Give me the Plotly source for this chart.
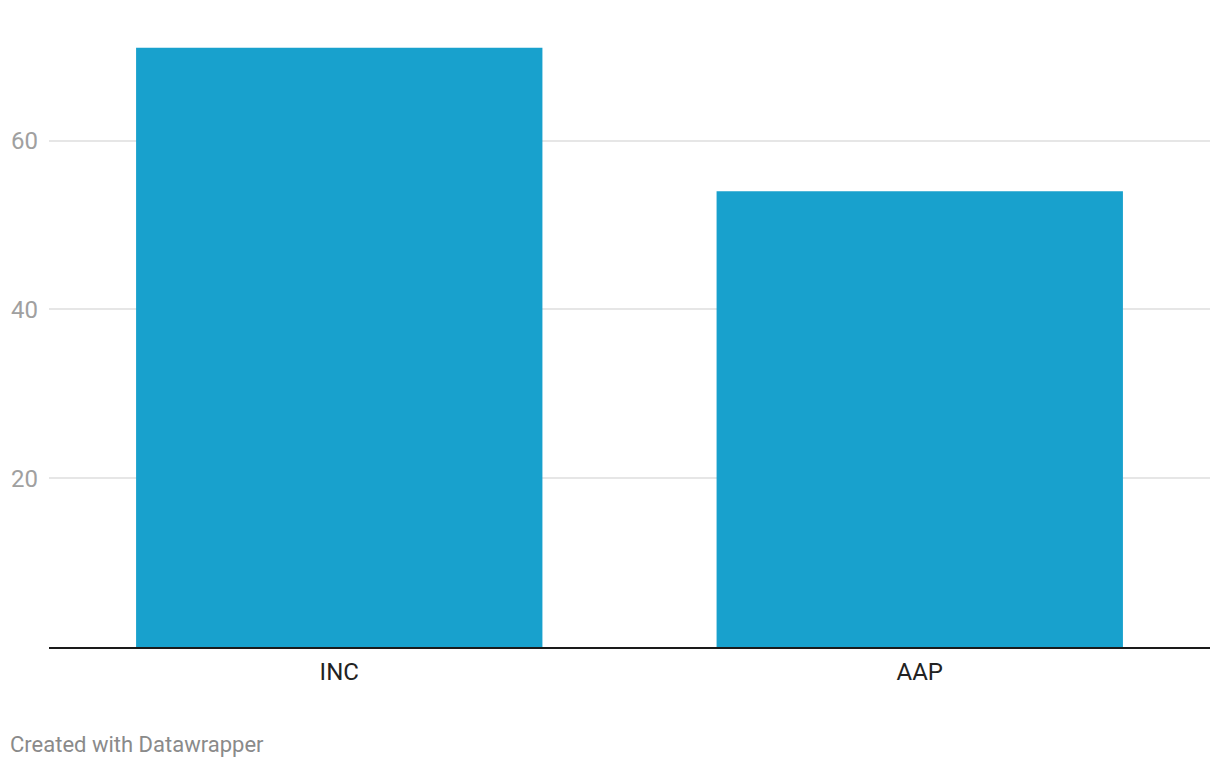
import plotly.graph_objects as go

categories = ["INC", "AAP"]
values = [71, 54]
y_ticks = [20, 40, 60]
footer_text = "Created with Datawrapper"

# page body has an 8px default margin; the figure is sized to fit inside it
OFF = 8
W, H = 1220 - 2 * OFF, 768 - 2 * OFF
L = 49 - OFF
R = W - (1210 - OFF)
T = 14 - OFF
B = H - (647.5 - OFF)
plot_w = W - L - R
plot_h = H - T - B

fig = go.Figure(
    go.Bar(
        x=categories,
        y=values,
        marker=dict(color="#18a1cd", line=dict(width=0)),
        width=0.7,
        hoverinfo="x+y",
    )
)

fig.update_layout(
    width=W,
    height=H,
    margin=dict(l=L, r=R, t=T, b=B, autoexpand=False),
    paper_bgcolor="white",
    plot_bgcolor="white",
    font=dict(family="Roboto", color="#333333"),
    showlegend=False,
    bargap=0.3,
)

fig.update_xaxes(
    range=[-0.5, 1.5],
    showgrid=False,
    showline=True,
    linecolor="#1a1a1a",
    linewidth=2,
    ticks="",
    tickfont=dict(size=24, color="#222222", family="Roboto"),
    ticklabelstandoff=2,
    zeroline=False,
    fixedrange=True,
)

fig.update_yaxes(
    range=[0, 75],
    tickvals=y_ticks,
    ticktext=[str(v) for v in y_ticks],
    showgrid=True,
    gridcolor="#e6e6e6",
    gridwidth=1.5,
    zeroline=False,
    showline=False,
    ticks="",
    tickfont=dict(size=24, color="#a0a0a0", family="Roboto"),
    ticklabelstandoff=10,
    fixedrange=True,
)

fig.add_annotation(
    text=footer_text,
    xref="paper",
    yref="paper",
    x=(8 - 49) / plot_w,
    y=-(745 - 647.5) / plot_h,
    xanchor="left",
    yanchor="middle",
    showarrow=False,
    font=dict(size=22, color="#8a8a8a", family="Roboto"),
)

fig.write_html("out.html")
